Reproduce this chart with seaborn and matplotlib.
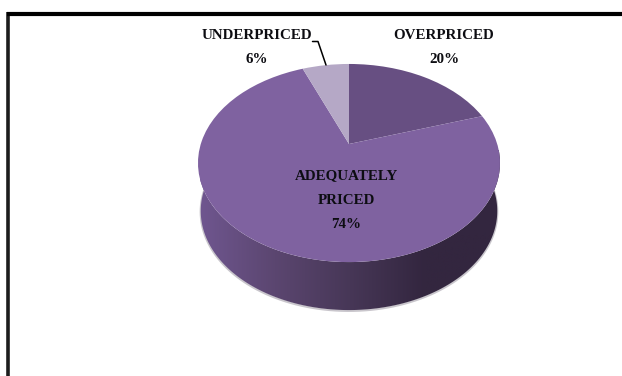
import numpy as np
import matplotlib
matplotlib.use("Agg")
import matplotlib.pyplot as plt
from matplotlib.path import Path
from matplotlib.patches import PathPatch
from matplotlib.transforms import Transform
from matplotlib.colors import LinearSegmentedColormap
import seaborn as sns

categories = ["OVERPRICED", "ADEQUATELY\nPRICED", "UNDERPRICED"]
values = [20, 74, 6]
value_labels = ["20%", "74%", "6%"]
wedge_colors = ["#674f82", "#7f62a0", "#b5a8c6"]
side_colors = ["#6f568f", "#5b4670", "#473757", "#33263f", "#33263f"]

sns.set_theme(style="white")
plt.rcParams["font.family"] = ["Liberation Serif", "DejaVu Serif"]

W, H = 622, 376
CX = 349.0


class Perspective(Transform):
    """Tilted disc: unit circle seen in perspective, output in image pixels."""
    input_dims = output_dims = 2

    def __init__(self, cy, a, b, k):
        super().__init__()
        self.cy, self.a, self.b, self.k = cy, a, b, k

    def transform_non_affine(self, xy):
        xy = np.asarray(xy, float)
        w = 1 + self.k * xy[:, 1]
        return np.column_stack((CX + self.a * xy[:, 0] / w,
                                self.cy - self.b * xy[:, 1] / w))


top = Perspective(144.0, 148.2, 95.4, 0.192)
base = Perspective(192.0, 145.5, 95.4, 0.192)

fig = plt.figure(figsize=(W / 100, H / 100), dpi=100, facecolor="white")
ax = fig.add_axes([0, 0, 1, 1])

wedges, _ = ax.pie(values, colors=sns.color_palette(wedge_colors), startangle=90,
                   counterclock=False, wedgeprops=dict(linewidth=0))
ax.set_aspect("auto")
ax.set_xlim(0, W)
ax.set_ylim(H, 0)
ax.axis("off")
for wd in wedges:
    wd.set_transform(top + ax.transData)
    wd.set_zorder(3)

# side wall of the disc: front half of the rim, top edge to base edge
t = np.linspace(np.pi * 0.985, np.pi * 2.015, 200)
rim = np.column_stack((np.cos(t), np.sin(t)))
base_rim = base.transform(rim)
outline = np.vstack((top.transform(rim), base_rim[::-1]))
side_path = Path(np.vstack((outline, outline[:1])), closed=True)

# soft shadow under the base edge only
ax.plot(base_rim[:, 0], base_rim[:, 1] + 0.8, color="#c9c6cc", linewidth=1.6, zorder=1)
cmap = LinearSegmentedColormap.from_list("side", side_colors)
img = ax.imshow(np.linspace(0, 1, 256)[None, :], cmap=cmap, aspect="auto",
                extent=(200, 500, 320, 150), zorder=2)
clip = PathPatch(side_path, transform=ax.transData, facecolor="none", edgecolor="none")
ax.add_patch(clip)
img.set_clip_path(clip)
ax.set_xlim(0, W)
ax.set_ylim(H, 0)

# chart frame
ax.plot([8.3, 8.3], [H, 12], color="#1c1c1c", linewidth=2.6, solid_capstyle="butt", zorder=5)
ax.plot([6.5, W], [14, 14], color="black", linewidth=3.0, solid_capstyle="butt", zorder=5)

# labels
fs = 10.8
lab = dict(ha="center", va="center", fontsize=fs, fontweight="bold", color="#0d0d12",
           linespacing=2.1, zorder=6)
ax.text(444, 47.5, f"{categories[0]}\n{value_labels[0]}", **lab)
ax.text(346, 200, f"{categories[1]}\n{value_labels[1]}", **lab)
ax.text(257, 47.5, f"{categories[2]}\n{value_labels[2]}", **lab)

# leader line to the small slice
ax.plot([312.5, 318, 326], [41.5, 41.5, 65], color="black", linewidth=1.1, zorder=6)

fig.savefig("out.png", dpi=100, facecolor="white")
